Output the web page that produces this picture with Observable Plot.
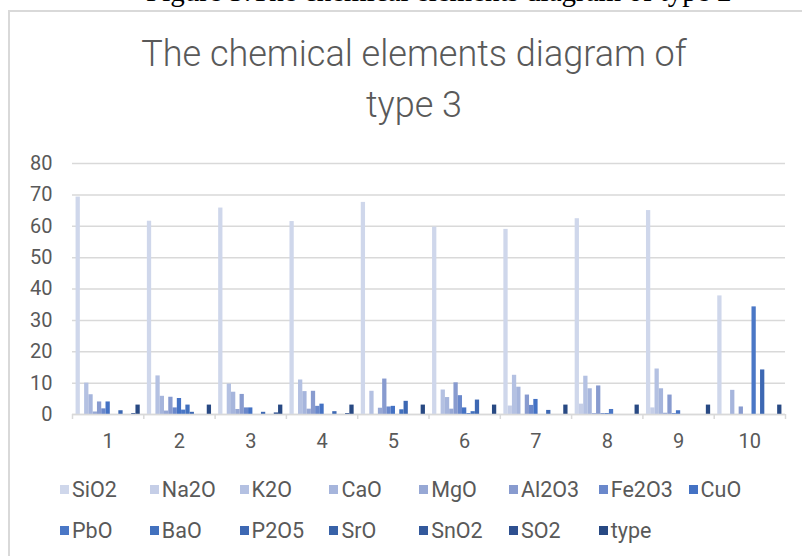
<!DOCTYPE html>
<html><head><meta charset="utf-8">
<script src="https://cdn.jsdelivr.net/npm/d3@7"></script>
<script src="https://cdn.jsdelivr.net/npm/@observablehq/plot@0.6"></script>
<style>
html,body{margin:0;padding:0;background:#fff;}
#wrap{position:relative;width:802px;height:556px;overflow:hidden;font-family:Roboto,"Noto Sans",sans-serif;}
#frame{position:absolute;left:8px;top:10px;width:830px;height:600px;border:2px solid #d9d9d9;box-sizing:border-box;}
#fig{position:absolute;left:146px;top:-25px;font-family:"Liberation Serif","Times New Roman",serif;font-size:29px;color:#000;white-space:nowrap;}
#title{position:absolute;left:14px;width:800px;top:29px;text-align:center;font-weight:300;font-size:36px;line-height:51px;color:#595959;}
#chart{position:absolute;left:0;top:150px;}
#legend{position:absolute;left:60px;top:474px;display:grid;grid-template-columns:repeat(8,89.8px);row-gap:11px;font-size:21.5px;color:#595959;}
.item{display:flex;align-items:center;height:30px;white-space:nowrap;}
.sw{width:9px;height:9px;margin-right:3px;flex:none;}
</style></head>
<body>
<div id="wrap">
  <div id="fig">Figure 5:The chemical elements diagram of type 2</div>
  <div id="frame"></div>
  <div id="title">The chemical elements diagram of<br>type 3</div>
  <div id="chart"></div>
  <div id="legend"></div>
</div>
<script>
const groups = ["1","2","3","4","5","6","7","8","9","10"];
const series = ["SiO2","Na2O","K2O","CaO","MgO","Al2O3","Fe2O3","CuO","PbO","BaO","P2O5","SrO","SnO2","SO2","type"];
const colors = ["#CFD7EB","#C5CEE7","#B4C1E2","#A6B5DC","#97A8D5","#889BCF","#6A88CB","#4472C4","#4A77C6","#4271BE","#3D68B3","#3862A8","#33599C","#2E5090","#284983"];
const yTicks = [0,10,20,30,40,50,60,70,80];

const SiO2  = [69.3, 61.6, 65.8, 61.5, 67.6, 59.7, 59.0, 62.4, 65.0, 37.8];
const Na2O  = [0, 0, 0, 0, 0, 0, 2.7, 3.3, 2.1, 0];
const K2O   = [10.0, 12.3, 9.7, 11.0, 7.4, 7.8, 12.5, 12.2, 14.5, 0];
const CaO   = [6.3, 5.8, 7.1, 7.3, 0, 5.4, 8.7, 8.2, 8.2, 7.7];
const MgO   = [0.8, 1.1, 1.6, 1.7, 2.0, 1.7, 0, 0.3, 0.4, 0];
const Al2O3 = [4.0, 5.5, 6.4, 7.4, 11.3, 10.1, 6.2, 9.1, 6.2, 2.4];
const Fe2O3 = [1.8, 2.1, 2.1, 2.6, 2.4, 6.0, 2.9, 0.3, 0.3, 0];
const CuO   = [4.0, 5.1, 2.1, 3.3, 2.6, 2.1, 4.8, 0.3, 1.2, 0];
const PbO   = [0, 1.4, 0, 0, 0, 0.3, 0, 1.6, 0, 34.3];
const BaO   = [0, 3.0, 0, 0, 1.5, 0.9, 0, 0, 0, 0];
const P2O5  = [1.2, 0.7, 0.7, 0.9, 4.2, 4.6, 1.3, 0, 0, 14.2];
const SrO   = [0, 0, 0, 0, 0, 0, 0, 0, 0, 0];
const SnO2  = [0, 0, 0, 0, 0, 0, 0, 0, 0, 0];
const SO2   = [0.3, 0, 0.5, 0.3, 0, 0, 0, 0, 0, 0];
const type  = [3, 3, 3, 3, 3, 3, 3, 3, 3, 3];
const values = [SiO2, Na2O, K2O, CaO, MgO, Al2O3, Fe2O3, CuO, PbO, BaO, P2O5, SrO, SnO2, SO2, type];

const data = [];
series.forEach((s, si) => values[si].forEach((v, gi) => data.push({group: gi, series: s, si, value: v})));
const gap = 0.1, w = (1 - gap) / series.length;

const chart = Plot.plot({
  width: 802, height: 322,
  marginLeft: 72, marginRight: 17, marginTop: 13, marginBottom: 58,
  style: {color: "#595959", fontFamily: "Roboto, 'Noto Sans', sans-serif", background: "transparent"},
  x: {domain: [0, groups.length], axis: null},
  y: {domain: [0, 80], axis: null},
  color: {domain: series, range: colors},
  marks: [
    Plot.gridY(yTicks, {stroke: "#d9d9d9", strokeOpacity: 1, strokeWidth: 1.5}),
    Plot.rectY(data, {
      x1: d => d.group + gap / 2 + d.si * w,
      x2: d => d.group + gap / 2 + (d.si + 1) * w,
      y: "value", fill: "series"
    }),
    Plot.ruleY([0], {stroke: "#d9d9d9", strokeWidth: 1.5}),
    Plot.axisX(d3.range(0, groups.length + 1), {tickSize: 5, tickFormat: () => "", stroke: "#d9d9d9", strokeWidth: 1.5, label: null}),
    Plot.axisX(groups.map((g, i) => i + 0.5), {tickSize: 0, tickPadding: 19, tickFormat: d => groups[Math.floor(d)], fontSize: 20, label: null}),
    Plot.axisY(yTicks, {tickSize: 0, tickPadding: 20, fontSize: 20, label: null})
  ]
});
document.getElementById("chart").appendChild(chart);

const legend = document.getElementById("legend");
series.forEach((s, i) => {
  const it = document.createElement("div");
  it.className = "item";
  const sw = document.createElement("span");
  sw.className = "sw";
  sw.style.background = colors[i];
  const t = document.createElement("span");
  t.textContent = s;
  it.appendChild(sw); it.appendChild(t);
  legend.appendChild(it);
});
</script>
</body></html>
